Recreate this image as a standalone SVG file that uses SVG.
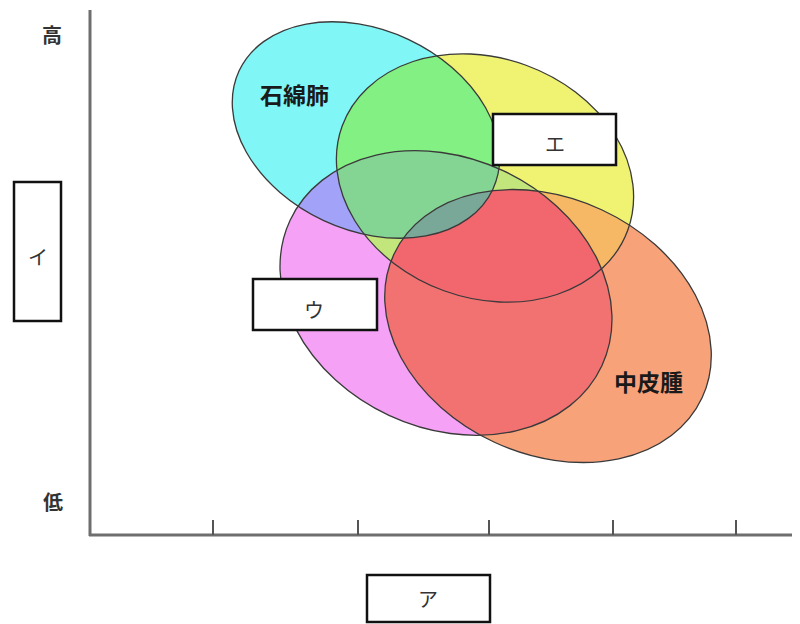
<svg xmlns="http://www.w3.org/2000/svg" xmlns:xlink="http://www.w3.org/1999/xlink" width="800" height="624" viewBox="0 0 800 624">
<style>
.lbl{font-family:"Noto Sans CJK JP","Noto Sans CJK SC",sans-serif;fill:#1a1a1a;}
.big{font-size:23px;font-weight:bold;}
.kana{font-size:20px;fill:#333;}
.box{fill:#fff;stroke:#111;stroke-width:2.5;}
.outline{fill:none;stroke:#3a3a3a;stroke-width:1.3;}
.axis{stroke:#6e6e6e;stroke-width:3;fill:none;}
.tick{stroke:#555;stroke-width:2;}
</style>
<defs>
<ellipse id="eC" cx="366" cy="130" rx="140" ry="100" transform="rotate(25 366 130)"/>
<ellipse id="eY" cx="485" cy="178" rx="152" ry="120" transform="rotate(20 485 178)"/>
<ellipse id="eM" cx="446" cy="293" rx="172" ry="135" transform="rotate(25 446 293)"/>
<ellipse id="eO" cx="548" cy="326" rx="170" ry="128" transform="rotate(25 548 326)"/>
<clipPath id="cC"><use xlink:href="#eC"/></clipPath>
<clipPath id="cY"><use xlink:href="#eY"/></clipPath>
<clipPath id="cM"><use xlink:href="#eM"/></clipPath>
</defs>
<rect width="800" height="624" fill="#fff"/>
<g id="axes">
<line class="axis" x1="90" y1="10" x2="90" y2="536"/>
<line class="axis" x1="89" y1="535" x2="792" y2="535"/>
<line class="tick" x1="213" y1="520" x2="213" y2="535"/>
<line class="tick" x1="358" y1="520" x2="358" y2="535"/>
<line class="tick" x1="489" y1="520" x2="489" y2="535"/>
<line class="tick" x1="613" y1="520" x2="613" y2="535"/>
<line class="tick" x1="736" y1="520" x2="736" y2="535"/>
</g>
<g id="sets">
<use xlink:href="#eC" fill="#80f6f6"/>
<use xlink:href="#eY" fill="#f0f272"/>
<use xlink:href="#eM" fill="#f5a2f6"/>
<use xlink:href="#eO" fill="#f8a27a"/>
<g clip-path="url(#cC)"><use xlink:href="#eY" fill="#82f082"/></g>
<g clip-path="url(#cC)"><use xlink:href="#eM" fill="#a2a2f8"/></g>
<g clip-path="url(#cY)"><use xlink:href="#eM" fill="#c2e67c"/></g>
<g clip-path="url(#cY)"><use xlink:href="#eO" fill="#f6b864"/></g>
<g clip-path="url(#cM)"><use xlink:href="#eO" fill="#f27272"/></g>
<g clip-path="url(#cC)"><g clip-path="url(#cY)"><use xlink:href="#eM" fill="#84d494"/></g></g>
<g clip-path="url(#cY)"><g clip-path="url(#cM)"><use xlink:href="#eO" fill="#f2666e"/></g></g>
<g clip-path="url(#cC)"><g clip-path="url(#cY)"><g clip-path="url(#cM)"><use xlink:href="#eO" fill="#7aa898"/></g></g></g>
<use xlink:href="#eC" class="outline"/>
<use xlink:href="#eY" class="outline"/>
<use xlink:href="#eM" class="outline"/>
<use xlink:href="#eO" class="outline"/>
</g>
<g id="label-asbestosis"><text class="lbl big" x="260" y="104">石綿肺</text></g>
<g id="label-mesothelioma"><text class="lbl big" x="614" y="391">中皮腫</text></g>
<g id="label-high"><text class="lbl kana" x="52" y="43" text-anchor="middle" style="font-weight:bold">高</text></g>
<g id="label-low"><text class="lbl kana" x="53" y="510" text-anchor="middle" style="font-weight:bold">低</text></g>
<g id="box-i"><rect class="box" x="14" y="182" width="47" height="139"/><text class="lbl kana" x="38" y="265" text-anchor="middle">イ</text></g>
<g id="box-u"><rect class="box" x="253" y="279" width="124" height="51"/><text class="lbl kana" x="314" y="318" text-anchor="middle">ウ</text></g>
<g id="box-e"><rect class="box" x="493" y="114" width="123" height="51"/><text class="lbl kana" x="555" y="152" text-anchor="middle">エ</text></g>
<g id="box-a"><rect class="box" x="367" y="575" width="123" height="47"/><text class="lbl kana" x="428" y="607" text-anchor="middle">ア</text></g>
</svg>
